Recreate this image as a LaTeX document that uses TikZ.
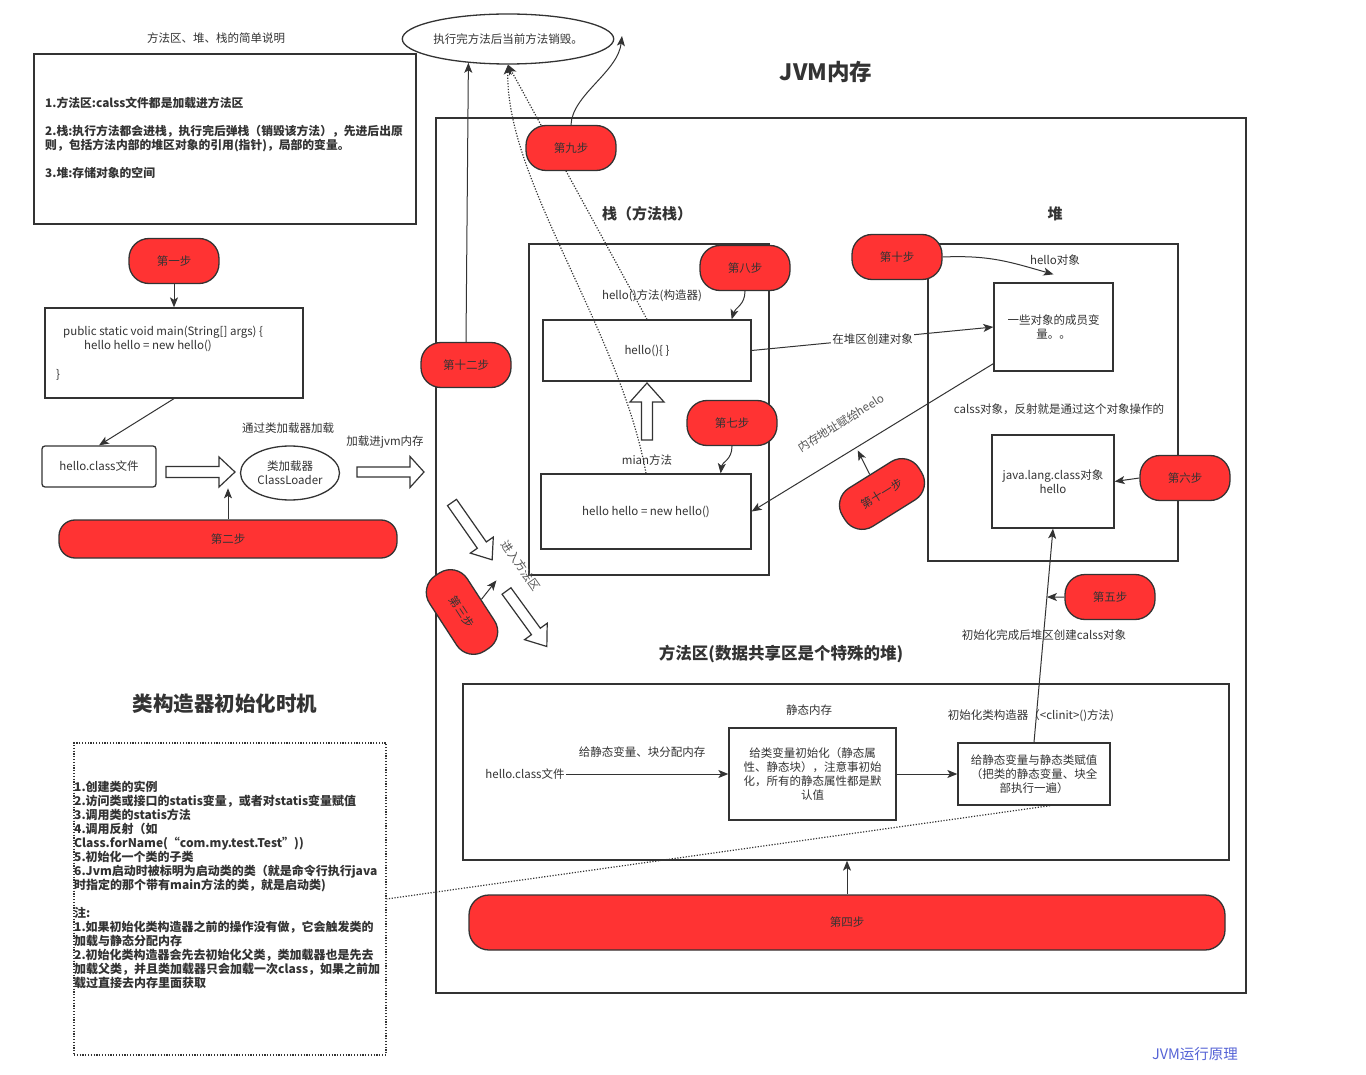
\documentclass[tikz,border=0pt]{standalone}
\usepackage{fontspec}
\setmainfont{Noto Sans CJK SC}
\usetikzlibrary{arrows.meta,shapes.geometric,calc}
\definecolor{ink}{HTML}{333333}
\definecolor{stepred}{HTML}{FF3333}
\definecolor{footblue}{HTML}{5563D6}
\definecolor{graytxt}{HTML}{555555}
\newcommand{\myfs}[1]{\fontsize{#1}{14}\selectfont}
\begin{document}
\begin{tikzpicture}[x=1pt,y=-1pt,
  lbl/.style={text=ink,font=\myfs{11.5},inner sep=1pt},
  box/.style={draw=ink,line width=1.3pt,fill=white,inner sep=0pt,text=ink,font=\myfs{11.5},align=center},
  redbox/.style={draw=ink,line width=1.3pt,fill=stepred,rounded corners=20pt,minimum width=90pt,minimum height=45pt,inner sep=0pt,text=ink,font=\myfs{11.5}},
  arr/.style={draw=ink,line width=1pt,-{Stealth[length=10pt,width=8pt,inset=2.5pt]}},
  hollow/.style={draw=ink,line width=1.2pt,fill=white,line join=miter},
  dots/.style={draw=ink,line width=1.2pt,dash pattern=on 1.2pt off 1.6pt},
]
\fill[white] (0,0) rectangle (1366,1075);
\useasboundingbox (0,0) rectangle (1366,1075);

% ---------- top-left description ----------
\node[lbl] (desctitle) at (216,38) {方法区、堆、栈的简单说明};
\node[box,minimum width=382pt,minimum height=170pt] (descbox) at (225,139) {};
\node[lbl,font=\myfs{11.8}\bfseries,anchor=west,align=left] (desctext) at (44,138)
 {1.方法区:calss文件都是加载进方法区\\[14pt]2.栈:执行方法都会进栈，执行完后弹栈（销毁该方法），先进后出原\\则，包括方法内部的堆区对象的引用(指针)，局部的变量。\\[14pt]3.堆:存储对象的空间};

% ---------- ellipse & title ----------
\node[draw=ink,line width=1.3pt,fill=white,ellipse,minimum width=199pt,minimum height=50pt,inner sep=0pt,text=ink,font=\myfs{11.5}] (destroy) at (508,39) {执行完方法后当前方法销毁。};
\node[lbl,font=\myfs{22.5}\bfseries] (jvmtitle) at (826,72) {JVM内存};

% ---------- outer JVM box ----------
\node[box,minimum width=810pt,minimum height=875pt] (jvmbox) at (841,555.5) {};

% ---------- stack ----------
\node[lbl,font=\myfs{15}\bfseries] (stacktitle) at (647,214) {栈（方法栈）};
\node[lbl,font=\myfs{15}\bfseries] (heaptitle) at (1055,214) {堆};
\node[box,minimum width=240pt,minimum height=331pt] (stackbox) at (649,409.5) {};
\node[lbl] (hellomlabel) at (652,296) {hello()方法(构造器)};
\node[box,minimum width=208pt,minimum height=61pt] (hellom) at (647,350.5) {hello()\{ \}};
\node[lbl] (mainlabel) at (647,460) {mian方法};
\node[box,minimum width=210pt,minimum height=75pt] (mainbox) at (646,511.5) {hello hello = new hello()};
\begin{scope}[shift={(647,440)},rotate=90]
\draw[hollow] (0,-5.5) -- (38,-5.5) -- (38,-17) -- (57,0) -- (38,17) -- (38,5.5) -- (0,5.5) -- cycle;
\end{scope}

% dotted arrows to ellipse
\draw[dots,-{Stealth[length=10pt,width=8pt,inset=2.5pt]}] (hellom.north) -- (destroy.south);
\draw[dots,-{Stealth[length=10pt,width=8pt,inset=2.5pt]}] (mainbox.north) .. controls (620,330) and (505,180) .. (destroy.south);

% ---------- heap ----------
\node[box,minimum width=250pt,minimum height=317pt] (heapbox) at (1053,402.5) {};
\node[lbl] (helloobj) at (1055,260) {hello对象};
\node[box,minimum width=119pt,minimum height=88pt] (objbox) at (1053.5,327) {一些对象的成员变\\量。。};
\node[lbl] (calsslabel) at (1059,409) {calss对象，反射就是通过这个对象操作的};
\node[box,minimum width=122pt,minimum height=93pt] (classbox) at (1053,481.5) {java.lang.class对象\\hello};

% connectors stack <-> heap
\draw[arr] (hellom.east) -- node[lbl,fill=white,inner sep=1pt] (createlbl) {在堆区创建对象} (objbox.west);
\draw[arr] ([yshift=8pt]objbox.south west) -- (mainbox.east);
\node[lbl,text=graytxt,rotate=32] (addrlbl) at (841,423) {内存地址赋给heelo};

% ---------- red step nodes ----------
\node[redbox] (step9) at (571,148) {第九步};
\node[redbox] (step8) at (745,268) {第八步};
\node[redbox] (step7) at (732,423) {第七步};
\node[redbox] (step10) at (897,257) {第十步};
\node[redbox] (step6) at (1185,478) {第六步};
\node[redbox,rotate=32] (step11) at (882,494) {第十一步};
\node[redbox] (step12) at (466,365) {第十二步};
\node[redbox] (step5) at (1110,597) {第五步};
\node[redbox,rotate=-57] (step3) at (462,612) {第三步};

\coordinate (s9end) at (622,36);
\draw[arr] (step9.north) .. controls (572,95) and (618,72) .. (s9end);
\draw[arr] (step8.south) .. controls (745,305) and (735,308) .. ([xshift=-20pt]hellom.north east);
\draw[arr] (step7.south) .. controls (732,460) and (722,462) .. ([xshift=-31pt]mainbox.north east);
\draw[arr] (step10.east) .. controls (990,255) and (1010,262) .. ([yshift=8pt]objbox.north);
\draw[arr] (step6.west) -- (classbox.east);
\draw[arr] (step11.north) -- ++(-12,-24);
\draw[arr] (step12.north) -- (destroy.211);
\draw[arr] (step3.north) -- ++(15,-19);

% ---------- left flow ----------
\node[redbox] (step1) at (174,261) {第一步};
\node[box,minimum width=258pt,minimum height=90pt] (codebox) at (174,353) {};
\node[lbl,anchor=west] (code1) at (62,332) {public static void main(String[] args) \{};
\node[lbl,anchor=west] (code2) at (83,346) {hello hello = new hello()};
\node[lbl,anchor=west] (code3) at (55,375) {\}};
\node[box,rounded corners=3pt,minimum width=114pt,minimum height=41pt] (hellofile) at (99,466.5) {hello.class文件};
\node[draw=ink,line width=1.3pt,fill=white,ellipse,minimum width=99pt,minimum height=54pt,inner sep=0pt,align=center,text=ink,font=\myfs{11.5}] (loader) at (290,473) {类加载器\\ClassLoader};
\node[lbl] (vialoader) at (288,428) {通过类加载器加载};
\node[lbl] (intojvm) at (385,442) {加载进jvm内存};
\node[redbox,minimum width=338pt,minimum height=38pt,rounded corners=16pt] (step2) at (228,539) {第二步};
\draw[arr] (step1.south) -- (codebox.north);
\draw[arr] (codebox.south) -- (hellofile.north);
\draw[arr] (step2.north) -- ++(0,-31);
\begin{scope}[shift={(166,472)}]
\draw[hollow] (0,-5.5) -- (53,-5.5) -- (53,-15) -- (69,0) -- (53,15) -- (53,5.5) -- (0,5.5) -- cycle;
\end{scope}
\begin{scope}[shift={(357,472)}]
\draw[hollow] (0,-5) -- (53,-5) -- (53,-15.5) -- (67,0) -- (53,15.5) -- (53,5) -- (0,5) -- cycle;
\end{scope}

% ---------- into method area ----------
\begin{scope}[shift={(452,502.5)},rotate=-55]
\draw[hollow] (0,-5.5) -- (52,-5.5) -- (52,-14) -- (70,0) -- (52,14) -- (52,5.5) -- (0,5.5) -- cycle;
\end{scope}
\begin{scope}[shift={(506.5,591)},rotate=-54]
\draw[hollow] (0,-5.5) -- (50,-5.5) -- (50,-14) -- (68.6,0) -- (50,14) -- (50,5.5) -- (0,5.5) -- cycle;
\end{scope}
\node[lbl,text=graytxt,rotate=-55] (entermethod) at (521,566) {进入方法区};

% ---------- method area ----------
\node[lbl,font=\myfs{16.5}\bfseries] (matitle) at (781,654) {方法区(数据共享区是个特殊的堆)};
\node[box,minimum width=766pt,minimum height=176pt] (mabox) at (846,772) {};
\node[lbl] (staticmem) at (809,710) {静态内存};
\node[lbl] (alloc) at (642,752) {给静态变量、块分配内存};
\node[lbl] (mafile) at (525,774) {hello.class文件};
\node[box,minimum width=167pt,minimum height=92pt] (initbox) at (812.5,774) {给类变量初始化（静态属\\性、静态块），注意事初始\\化，所有的静态属性都是默\\认值};
\node[box,minimum width=152pt,minimum height=62pt] (assignbox) at (1034,774) {给静态变量与静态类赋值\\（把类的静态变量、块全\\部执行一遍）};
\draw[arr] (mafile.east) -- (initbox.west);
\draw[arr] (initbox.east) -- (assignbox.west);
\node[lbl] (initdone) at (1044,635) {初始化完成后堆区创建calss对象};
\node[lbl] (clinitlbl) at (1031,716) {初始化类构造器（<clinit>()方法)};
\draw[arr] (assignbox.north) -- coordinate[pos=0.68] (c5) (classbox.south);
\draw[arr] (step5.west) -- (c5);

\node[redbox,minimum width=756pt,minimum height=55pt] (step4) at (847,922.5) {第四步};
\draw[arr] (step4.north) -- (step4.north |- mabox.south);

% ---------- timing box ----------
\node[lbl,font=\myfs{20.5}\bfseries] (timingtitle) at (225,704) {类构造器初始化时机};
\node[draw=ink,line width=1.2pt,dash pattern=on 1.2pt off 1.6pt,fill=white,minimum width=312pt,minimum height=312pt,inner sep=0pt] (timingbox) at (230,899) {};
\node[lbl,font=\myfs{12}\bfseries,anchor=west,align=left,inner sep=0pt] (timingtext) at (74,885)
 {1.创建类的实例\\2.访问类或接口的statis变量，或者对statis变量赋值\\3.调用类的statis方法\\4.调用反射（如\\Class.forName(“com.my.test.Test”))\\5.初始化一个类的子类\\6.Jvm启动时被标明为启动类的类（就是命令行执行java\\时指定的那个带有main方法的类，就是启动类)\\[14pt]注:\\1.如果初始化类构造器之前的操作没有做，它会触发类的\\加载与静态分配内存\\2.初始化类构造器会先去初始化父类，类加载器也是先去\\加载父类，并且类加载器只会加载一次class，如果之前加\\载过直接去内存里面获取};

% dotted link from method area to timing box (drawn on top)
\draw[dots] ([xshift=16pt]assignbox.south) -- (timingbox.east);

\node[text=footblue,font=\myfs{14.5},inner sep=1pt] (footer) at (1195,1054) {JVM运行原理};
\end{tikzpicture}
\end{document}
